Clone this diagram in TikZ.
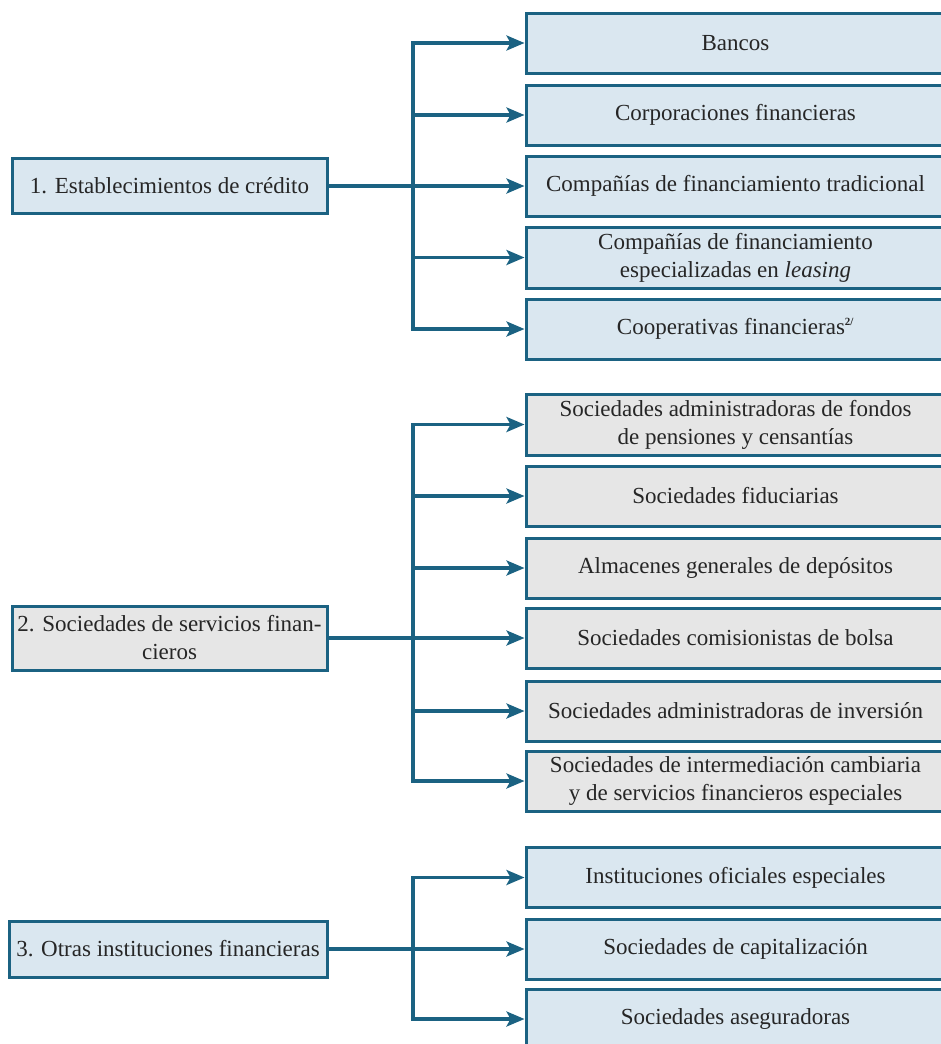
\documentclass[tikz,border=0pt]{standalone}
\usepackage{fontspec}
\setmainfont{Liberation Serif}
\usetikzlibrary{arrows.meta}
\definecolor{linecol}{HTML}{1B6282}
\definecolor{boxblue}{HTML}{DAE7F0}
\definecolor{boxgray}{HTML}{E6E6E6}
\tikzset{
  box/.style={draw=linecol, line width=3pt, inner sep=0pt, align=center,
    font=\fontsize{23}{28}\selectfont, text=black!85},
  bluebox/.style={box, fill=boxblue},
  graybox/.style={box, fill=boxgray},
  child/.style={minimum width=419pt, minimum height=60pt},
  parent/.style={minimum width=315pt},
  ln/.style={draw=linecol, line width=3.2pt},
  arr/.style={ln, -{Stealth[length=18pt,width=15pt,inset=4pt]}}
}
\begin{document}
\begin{tikzpicture}[x=1pt,y=-1pt]
\useasboundingbox (0,0) rectangle (941,1044);
\clip (0,0) rectangle (941,1044);
% group 1
\node[bluebox, parent, minimum height=55pt] (p1) at (169.5,186) {1. Establecimientos de crédito};
\node[bluebox, child] (a1) at (735.5,43) {Bancos};
\node[bluebox, child] (a2) at (735.5,115) {Corporaciones financieras};
\node[bluebox, child] (a3) at (735.5,186) {Compañías de financiamiento tradicional};
\node[bluebox, child, minimum height=61pt] (a4) at (735.5,257.5) {Compañías de financiamiento\\especializadas en \textit{leasing}};
\node[bluebox, child] (a5) at (735.5,329) {Cooperativas financieras\textsuperscript{\fontsize{11}{11}\selectfont\bfseries 2/}};
\coordinate (j1) at (413,186);
\draw[ln, line cap=rect] (a1.west -| j1) -- (a5.west -| j1);
\draw[arr] (p1.east) -- (a3.west);
\foreach \n in {a1,a2,a4,a5} \draw[arr] (\n.west -| j1) -- (\n.west);
% group 2
\node[graybox, parent, minimum height=64pt] (p2) at (169.5,638) {2. Sociedades de servicios finan-\\cieros};
\node[graybox, child, minimum height=61pt] (b1) at (735.5,424.5) {Sociedades administradoras de fondos\\de pensiones y censantías};
\node[graybox, child] (b2) at (735.5,496) {Sociedades fiduciarias};
\node[graybox, child] (b3) at (735.5,568) {Almacenes generales de depósitos};
\node[graybox, child] (b4) at (735.5,638) {Sociedades comisionistas de bolsa};
\node[graybox, child] (b5) at (735.5,711) {Sociedades administradoras de inversión};
\node[graybox, child] (b6) at (735.5,781) {Sociedades de intermediación cambiaria\\y de servicios financieros especiales};
\coordinate (j2) at (413,638);
\draw[ln, line cap=rect] (b1.west -| j2) -- (b6.west -| j2);
\draw[arr] (p2.east) -- (b4.west);
\foreach \n in {b1,b2,b3,b5,b6} \draw[arr] (\n.west -| j2) -- (\n.west);
% group 3
\node[bluebox, parent, minimum width=318pt, minimum height=56pt] (p3) at (168,949) {3. Otras instituciones financieras};
\node[bluebox, child] (c1) at (735.5,877.5) {Instituciones oficiales especiales};
\node[bluebox, child] (c2) at (735.5,949) {Sociedades de capitalización};
\node[bluebox, child] (c3) at (735.5,1019) {Sociedades aseguradoras};
\coordinate (j3) at (413,949);
\draw[ln, line cap=rect] (c1.west -| j3) -- (c3.west -| j3);
\draw[arr] (p3.east) -- (c2.west);
\foreach \n in {c1,c3} \draw[arr] (\n.west -| j3) -- (\n.west);
\end{tikzpicture}
\end{document}
